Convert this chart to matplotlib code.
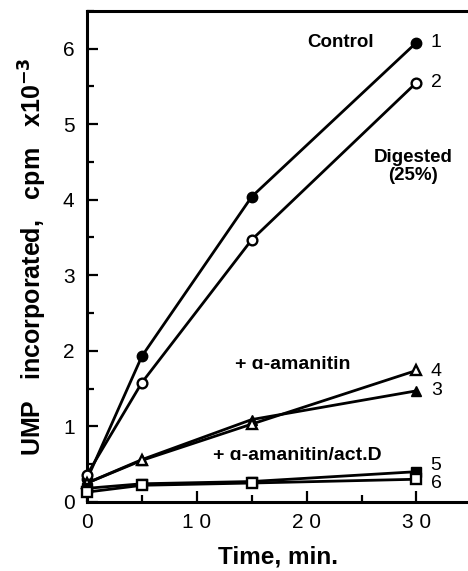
import matplotlib
matplotlib.use('Agg')
import matplotlib.pyplot as plt
from matplotlib.ticker import MultipleLocator, FixedLocator

plt.rcParams['font.family'] = ['Liberation Sans', 'DejaVu Sans']

time = [0, 5, 15, 30]

# series values, cpm x10^-3
control = [0.30, 1.93, 4.04, 6.08]          # 1
digested = [0.36, 1.58, 3.47, 5.55]         # 2
amanitin_3 = [0.25, 0.56, 1.09, 1.47]       # 3
amanitin_4 = [0.25, 0.55, 1.03, 1.74]       # 4
actd_5 = [0.18, 0.24, 0.27, 0.40]           # 5
actd_6 = [0.13, 0.22, 0.25, 0.30]           # 6

x_ticks = [0, 10, 20, 30]
x_ticklabels = ['0', '1 0', '2 0', '3 0']
y_ticks = [0, 1, 2, 3, 4, 5, 6]

fig = plt.figure(figsize=(4.68, 5.71), dpi=100)
ax = fig.add_axes([0.186, 0.121, 0.814, 0.860])

lw = 2.0
ax.plot(time, control, color='black', lw=lw, marker='o', ms=7.5,
        mfc='black', mec='black', clip_on=False, zorder=3)
ax.plot(time, digested, color='black', lw=lw, marker='o', ms=7,
        mfc='white', mec='black', mew=1.7, clip_on=False, zorder=3)
ax.plot(time, amanitin_3, color='black', lw=lw, marker='^', ms=7.5,
        mfc='black', mec='black', clip_on=False, zorder=3)
ax.plot(time, amanitin_4, color='black', lw=lw, marker='^', ms=7.5,
        mfc='white', mec='black', mew=1.7, clip_on=False, zorder=3)
ax.plot(time, actd_5, color='black', lw=lw, marker='s', ms=7,
        mfc='black', mec='black', clip_on=False, zorder=3)
ax.plot(time, actd_6, color='black', lw=lw, marker='s', ms=7,
        mfc='white', mec='black', mew=1.7, clip_on=False, zorder=3)

ax.set_xlim(0, 34.7)
ax.set_ylim(0, 6.5)

ax.xaxis.set_major_locator(FixedLocator(x_ticks))
ax.set_xticklabels(x_ticklabels)
ax.xaxis.set_minor_locator(MultipleLocator(5))
ax.yaxis.set_major_locator(FixedLocator(y_ticks))
ax.yaxis.set_minor_locator(MultipleLocator(0.5))

ax.tick_params(which='both', direction='in', width=1.6, labelsize=15)
ax.tick_params(which='major', length=8)
ax.tick_params(which='minor', length=5)
ax.tick_params(axis='x', pad=8)
ax.tick_params(axis='y', pad=9)

for s in ['left', 'bottom', 'top']:
    ax.spines[s].set_linewidth(2.2)
ax.spines['right'].set_visible(False)

ax.set_xlabel('Time, min.', fontsize=17.5, fontweight='bold', labelpad=10)
ax.set_ylabel('UMP   incorporated,   cpm   x10$^{\\mathbf{-3}}$', fontsize=18,
              fontweight='bold', labelpad=10)

ax.text(31.8, control[-1], '1', fontsize=14, va='center', ha='center')
ax.text(31.8, digested[-1], '2', fontsize=14, va='center', ha='center')
ax.text(31.8, 1.72, '4', fontsize=14, va='center', ha='center')
ax.text(31.8, 1.47, '3', fontsize=14, va='center', ha='center')
ax.text(31.8, 0.48, '5', fontsize=14, va='center', ha='center')
ax.text(31.8, 0.24, '6', fontsize=14, va='center', ha='center')

ax.text(23.1, 6.08, 'Control', fontsize=13.5, fontweight='bold', ha='center', va='center')
ax.text(29.7, 4.44, 'Digested\n(25%)', fontsize=13.5, fontweight='bold',
        ha='center', va='center', linespacing=1.15)
ax.text(13.5, 1.82, '+ ɑ-amanitin', fontsize=14, fontweight='bold', ha='left', va='center')
ax.text(11.5, 0.62, '+ ɑ-amanitin/act.D', fontsize=14, fontweight='bold', ha='left', va='center')

fig.savefig('out.png', dpi=100)
